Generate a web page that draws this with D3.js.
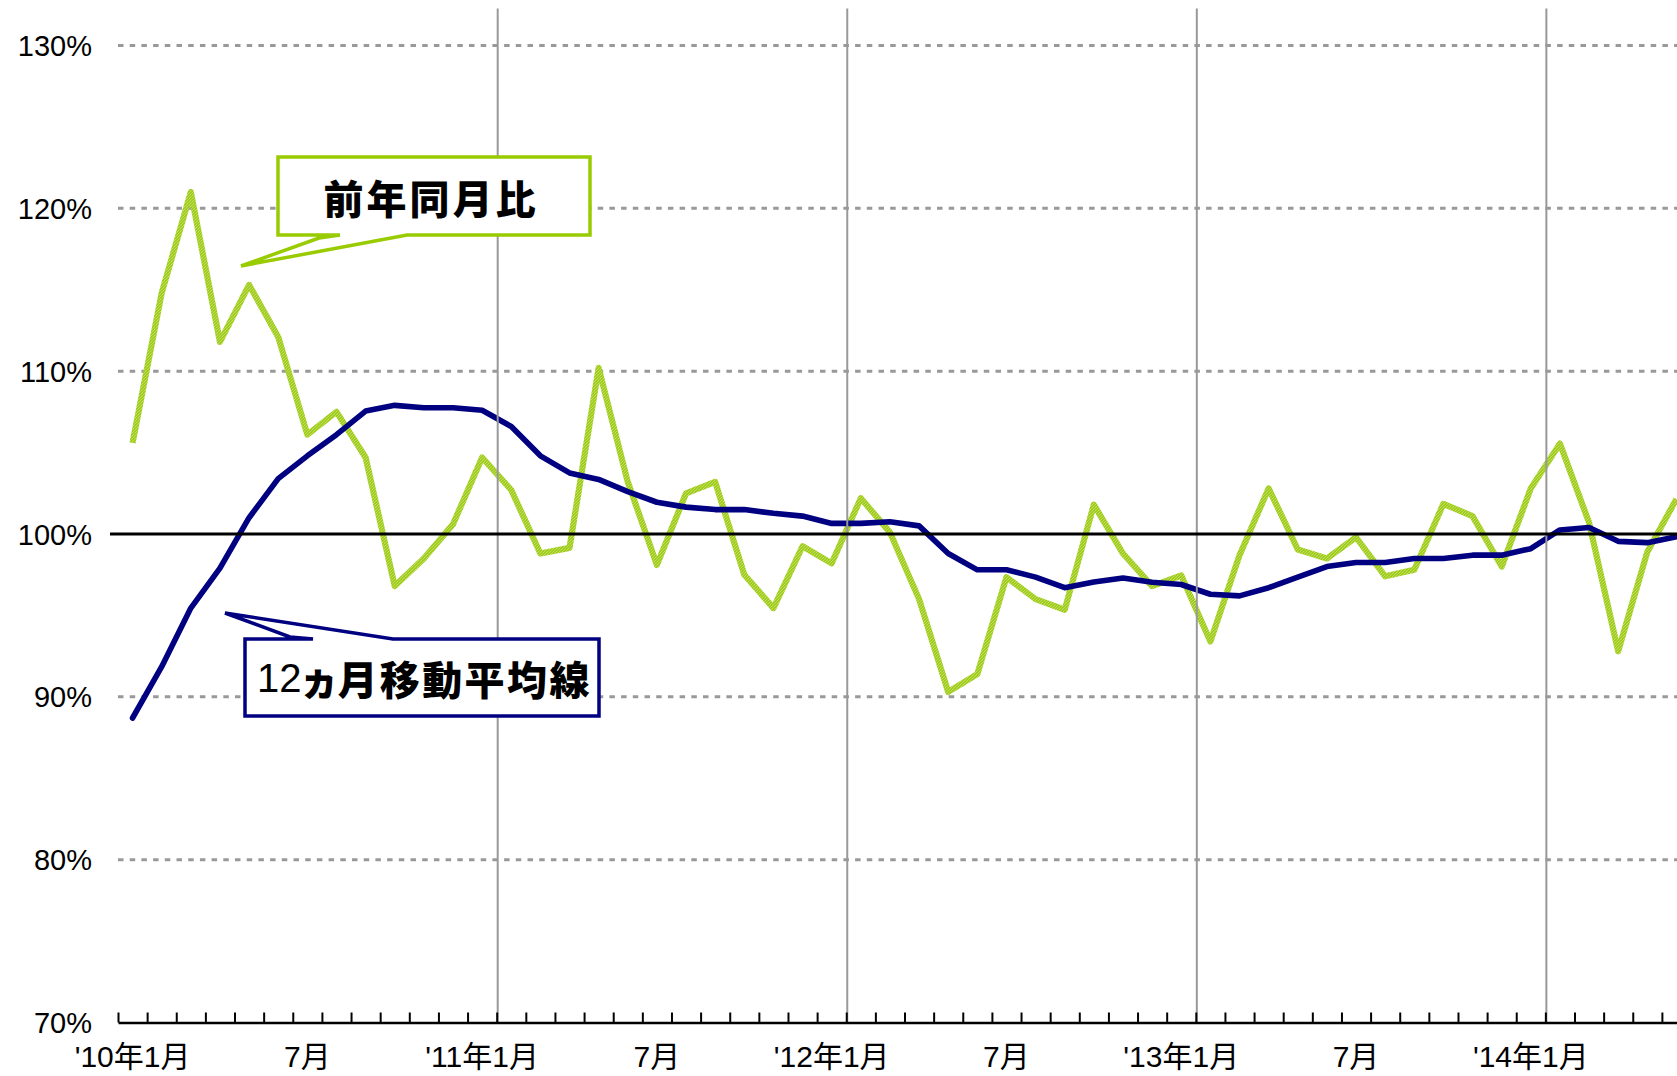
<!DOCTYPE html>
<html>
<head>
<meta charset="utf-8">
<script src="https://cdn.jsdelivr.net/npm/d3@7"></script>
<style>
  html, body { margin: 0; padding: 0; background: #fff; overflow: hidden; }
  svg { display: block; }
  .tick-label { font-family: "Liberation Sans", "Noto Sans CJK JP", sans-serif; fill: #000; }
</style>
</head>
<body>
<div id="chart"></div>
<script>
// 月（カテゴリ）
const months = [
  "2010-01","2010-02","2010-03","2010-04","2010-05","2010-06","2010-07","2010-08","2010-09","2010-10","2010-11","2010-12",
  "2011-01","2011-02","2011-03","2011-04","2011-05","2011-06","2011-07","2011-08","2011-09","2011-10","2011-11","2011-12",
  "2012-01","2012-02","2012-03","2012-04","2012-05","2012-06","2012-07","2012-08","2012-09","2012-10","2012-11","2012-12",
  "2013-01","2013-02","2013-03","2013-04","2013-05","2013-06","2013-07","2013-08","2013-09","2013-10","2013-11","2013-12",
  "2014-01","2014-02","2014-03","2014-04","2014-05","2014-06"
];

// 前年同月比 (%)
const yoy = [
  105.6, 114.8, 121.0, 111.8, 115.3, 112.1, 106.1, 107.5, 104.7, 96.8, 98.5, 100.6,
  104.7, 102.7, 98.8, 99.15, 110.2, 103.2, 98.1, 102.5, 103.2, 97.5, 95.45, 99.25,
  98.2, 102.2, 100.1, 96.0, 90.3, 91.4, 97.35, 96.0, 95.35, 101.8, 98.8, 96.8,
  97.45, 93.4, 98.7, 102.8, 99.05, 98.5, 99.8, 97.4, 97.8, 101.85, 101.1, 98.0,
  102.8, 105.55, 100.7, 92.8, 98.9, 102.15
];

// 12ヵ月移動平均線 (%)
const movingAvg = [
  88.7, 91.85, 95.45, 97.9, 101.0, 103.4, 104.8, 106.1, 107.55, 107.9, 107.75, 107.75,
  107.6, 106.6, 104.8, 103.75, 103.35, 102.6, 101.95, 101.65, 101.5, 101.5, 101.27, 101.1,
  100.65, 100.65, 100.75, 100.5, 98.8, 97.8, 97.8, 97.35, 96.7, 97.05, 97.3, 97.04,
  96.9, 96.3, 96.2, 96.7, 97.35, 98.0, 98.25, 98.25, 98.5, 98.5, 98.7, 98.7,
  99.1, 100.25, 100.4, 99.55, 99.47, 99.83
];

// 軸ラベル
const xTickMonths = ["2010-01","2010-07","2011-01","2011-07","2012-01","2012-07","2013-01","2013-07","2014-01"];
const xTickLabels = ["'10年1月","7月","'11年1月","7月","'12年1月","7月","'13年1月","7月","'14年1月"];
const yTicks = [70, 80, 90, 100, 110, 120, 130];
const yearMarks = ["2011-01","2012-01","2013-01","2014-01"];

const width = 1677;
const height = 1076;
const left = 118;
const step = 29.13;

const svg = d3.select("#chart")
  .append("svg")
  .attr("width", width)
  .attr("height", height);

// 緑線の質感用パターン
const defs = svg.append("defs");
const pat = defs.append("pattern")
  .attr("id", "gtex")
  .attr("width", 3).attr("height", 3)
  .attr("patternUnits", "userSpaceOnUse");
pat.append("rect").attr("width", 3).attr("height", 3).attr("fill", "#a0cc1e");
pat.append("rect").attr("x", 0).attr("y", 0).attr("width", 1).attr("height", 1).attr("fill", "#c2e062");
pat.append("rect").attr("x", 2).attr("y", 1).attr("width", 1).attr("height", 1).attr("fill", "#badc54");
pat.append("rect").attr("x", 1).attr("y", 2).attr("width", 1).attr("height", 1).attr("fill", "#c2e062");

const x = d3.scaleBand()
  .domain(months)
  .range([left, left + months.length * step]);
const xIdx = d3.scaleLinear()
  .domain([0, months.length])
  .range([left, left + months.length * step]);
const y = d3.scaleLinear()
  .domain([70, 130])
  .range([1022.5, 45.5]);
const cx = m => x(m) + x.bandwidth() / 2;

// 点線グリッド
svg.append("g")
  .selectAll("line")
  .data(yTicks.filter(d => d !== 70 && d !== 100))
  .enter()
  .append("line")
  .attr("x1", left)
  .attr("x2", width)
  .attr("y1", d => y(d))
  .attr("y2", d => y(d))
  .attr("stroke", "#999")
  .attr("stroke-width", 3)
  .attr("stroke-dasharray", "5.5 6.2");

// Y軸ラベル
const yAxis = svg.append("g")
  .attr("transform", `translate(${left},0)`)
  .call(d3.axisLeft(y).tickValues(yTicks).tickSize(0).tickPadding(26).tickFormat(d => d + "%"));
yAxis.select(".domain").remove();
yAxis.selectAll("text")
  .attr("class", "tick-label")
  .attr("font-size", 29)
  .attr("dy", "0.35em");

// 系列
const line = d3.line()
  .x((d, i) => cx(months[i]))
  .y(d => y(d));

svg.append("path")
  .datum(yoy)
  .attr("fill", "none")
  .attr("stroke", "url(#gtex)")
  .attr("stroke-width", 6.2)
  .attr("stroke-linejoin", "round")
  .attr("d", line);

svg.append("path")
  .datum(movingAvg)
  .attr("fill", "none")
  .attr("stroke", "#000080")
  .attr("stroke-width", 5.6)
  .attr("stroke-linejoin", "round")
  .attr("stroke-linecap", "round")
  .attr("d", line);

// 年の区切り線
svg.append("g")
  .selectAll("line")
  .data(yearMarks)
  .enter()
  .append("line")
  .attr("x1", d => x(d) + x.bandwidth() + 1)
  .attr("x2", d => x(d) + x.bandwidth() + 1)
  .attr("y1", 8.5)
  .attr("y2", y(70))
  .attr("stroke", "#999")
  .attr("stroke-width", 2);

// 100%ライン
svg.append("line")
  .attr("x1", 110)
  .attr("x2", width)
  .attr("y1", y(100))
  .attr("y2", y(100))
  .attr("stroke", "#000")
  .attr("stroke-width", 3);

// X軸（目盛りは区切り位置、内向き）
const xAxis = svg.append("g")
  .attr("transform", `translate(0,${y(70)})`)
  .call(d3.axisBottom(xIdx)
    .tickValues(d3.range(0, months.length + 1))
    .tickSize(-10)
    .tickSizeOuter(0)
    .tickFormat(""));
xAxis.select(".domain").attr("stroke", "#000").attr("stroke-width", 2.5);
xAxis.selectAll(".tick line").attr("stroke", "#000").attr("stroke-width", 2);

const labelMap = new Map(xTickMonths.map((m, i) => [m, xTickLabels[i]]));
const xLabels = svg.append("g")
  .attr("transform", `translate(0,${y(70)})`)
  .call(d3.axisBottom(x)
    .tickValues(xTickMonths)
    .tickSize(0)
    .tickPadding(0)
    .tickFormat(d => labelMap.get(d)));
xLabels.select(".domain").remove();
xLabels.selectAll("text")
  .attr("class", "tick-label")
  .attr("font-size", 30)
  .attr("y", 34)
  .attr("dy", "0.35em");

// 吹き出し：前年同月比
svg.append("path")
  .attr("d", "M278,157 H590 V235 H407 L241,266 L319,238 L340,235 H278 Z")
  .attr("fill", "#fff")
  .attr("stroke", "#99cc00")
  .attr("stroke-width", 3.5)
  .attr("stroke-linejoin", "miter");
svg.append("text")
  .attr("x", 431)
  .attr("y", 197)
  .attr("text-anchor", "middle")
  .attr("dominant-baseline", "central")
  .attr("font-family", "'Noto Sans CJK JP', sans-serif")
  .attr("font-weight", 900)
  .attr("font-size", 40)
  .attr("letter-spacing", 3)
  .text("前年同月比");

// 吹き出し：12ヵ月移動平均線
svg.append("path")
  .attr("d", "M245,639 H313 L290,637 L225,613 L393,639 H599 V716 H245 Z")
  .attr("fill", "#fff")
  .attr("stroke", "#000080")
  .attr("stroke-width", 3.5)
  .attr("stroke-linejoin", "miter");
const maText = svg.append("text")
  .attr("x", 257)
  .attr("y", 678)
  .attr("dominant-baseline", "central")
  .attr("font-size", 40);
maText.append("tspan")
  .attr("font-family", "'Liberation Sans', sans-serif")
  .attr("font-weight", 400)
  .text("12");
maText.append("tspan")
  .attr("font-family", "'Noto Sans CJK JP', sans-serif")
  .attr("font-weight", 900)
  .attr("style", "font-feature-settings: 'palt'")
  .attr("dx", 2)
  .text("ヵ");
maText.append("tspan")
  .attr("font-family", "'Noto Sans CJK JP', sans-serif")
  .attr("font-weight", 900)
  .attr("letter-spacing", 2.4)
  .attr("dx", 2)
  .text("月移動平均線");
</script>
</body>
</html>
